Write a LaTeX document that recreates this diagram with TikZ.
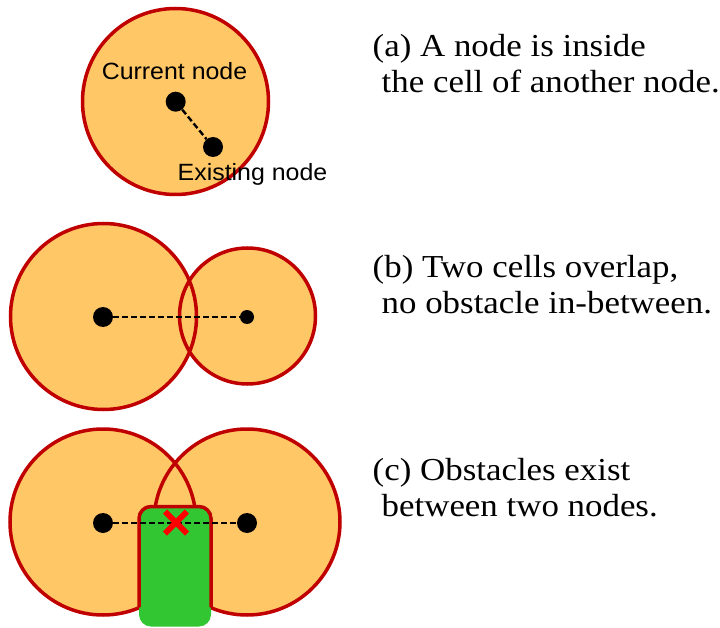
\documentclass[tikz,border=0pt]{standalone}
\usepackage{fontspec}
\usepackage{xcolor}
\usepackage{tikz}
\usetikzlibrary{positioning}
\newfontfamily\capfont[FakeStretch=1.09]{Liberation Serif}
\newfontfamily\lblfont[FakeStretch=1.06]{Liberation Sans}
\definecolor{cellfill}{HTML}{FFC766}
\definecolor{celledge}{HTML}{C00000}
\definecolor{obstfill}{HTML}{33C633}
\definecolor{crossred}{HTML}{FF0000}

\begin{document}
\begin{tikzpicture}[x=1pt,y=-1pt,
  cellfill/.style={fill=cellfill},
  celledge/.style={draw=celledge,line width=3.5pt},
  dot/.style={circle,fill=black,inner sep=0pt,minimum size=20pt},
  smalldot/.style={dot,minimum size=14pt},
  link/.style={black,line width=2.4pt,dash pattern=on 6pt off 3pt},
  obst/.style={fill=obstfill,rounded corners=12pt},
  cross/.style={crossred,line width=6pt},
  lbl/.style={font=\lblfont\fontsize{23.5}{26}\selectfont,inner sep=0pt,anchor=base},
  caption/.style={font=\capfont\fontsize{32}{36}\selectfont,align=left,inner sep=0pt,anchor=base west},
]
  \useasboundingbox (0,0) rectangle (720,628);

  % (a) node inside a cell
  \fill[cellfill] (175.5,101.5) circle (93);
  \draw[celledge] (175.5,101.5) circle (93);
  \node[dot] (cura) at (175.7,101.7) {};
  \node[dot] (exia) at (213,147) {};
  \draw[link] (cura) -- (exia);
  \node[lbl] (curlbl) at (174.5,80) {Current node};
  \node[lbl] (exilbl) at (252.5,181) {Existing node};

  % (b) overlapping cells
  \fill[cellfill] (103.5,316.5) circle (93) (247.5,316) circle (68);
  \draw[celledge] (103.5,316.5) circle (93) (247.5,316) circle (68);
  \node[dot] (lb) at (103,317) {};
  \node[smalldot] (rb) at (247,317) {};
  \draw[link] (lb) -- (rb);

  % (c) obstacle between nodes
  \fill[cellfill] (103,522) circle (93) (247,522) circle (93);
  \draw[celledge] (103,522) circle (93) (247,522) circle (93);
  \fill[obst] (139,506.5) rectangle (211,626.5);
  \begin{scope}
    \clip (103,522) circle (93) (247,522) circle (93);
    \draw[celledge,rounded corners=12pt] (139,506.5) rectangle (211,626.5);
  \end{scope}
  \node[dot] (lc) at (103,523) {};
  \node[dot] (rc) at (247,523) {};
  \draw[link] (lc) -- (rc);
  \coordinate (xm) at (176,522.5);
  \draw[cross] (xm) +(-11,-11) -- +(11,11) (xm) +(-11,11) -- +(11,-11);

  % captions
  \node[caption] (capa) at (372.5,92.3) {(a) A node is inside\\\hspace{9pt}the cell of another node.};
  \node[caption] (capb) at (372.5,313.3) {(b) Two cells overlap,\\\hspace{9pt}no obstacle in-between.};
  \node[caption] (capc) at (372.5,516) {(c) Obstacles exist\\\hspace{9pt}between two nodes.};
\end{tikzpicture}
\end{document}
